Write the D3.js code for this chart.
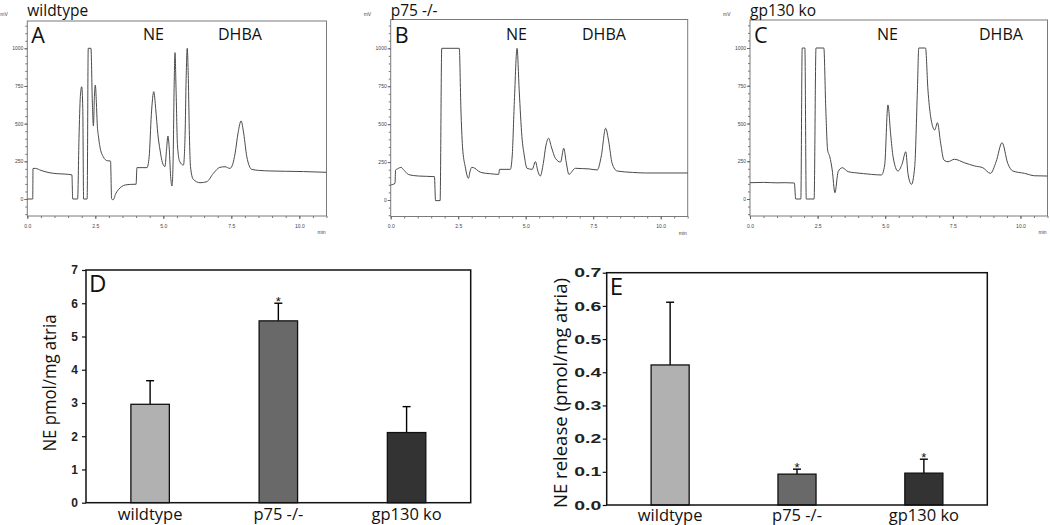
<!DOCTYPE html>
<html><head><meta charset="utf-8">
<script src="https://cdn.jsdelivr.net/npm/d3@7"></script>
<style>body{margin:0;background:#fff} svg{display:block}</style>
</head><body><svg id="c" width="1050" height="525"></svg>
<script>
// ---------- DATA ----------
const chromTitles = ["wildtype", "p75 -/-", "gp130 ko"];
const chromLetters = ["A", "B", "C"];
const peakLabels = ["NE", "DHBA"];
const chromYTicks = [0, 250, 500, 750, 1000];
const chromXTicks = [0, 2.5, 5, 7.5, 10];

// [time (min), signal (mV)]
const traceWildtype = [[0,0],[0.2,0],[0.21,203],[0.3,203],[0.5,190],[0.8,175],[1.1,168],[1.4,165],[1.64,160],[1.67,0],[1.85,0],[1.9,400],[1.95,680],[2.0,745],[2.04,600],[2.07,0],[2.2,0],[2.24,1000],[2.34,1000],[2.39,650],[2.43,485],[2.47,690],[2.5,756],[2.54,640],[2.57,502],[2.62,410],[2.67,347],[2.79,281],[2.94,254],[3.06,252],[3.1,0],[3.16,-5],[3.25,35],[3.35,62],[3.6,93],[3.8,97],[4.0,98],[4.03,208],[4.4,208],[4.48,280],[4.56,560],[4.65,712],[4.72,600],[4.8,430],[4.88,325],[4.97,240],[5.06,215],[5.12,330],[5.17,418],[5.22,330],[5.27,150],[5.32,86],[5.36,250],[5.4,760],[5.43,971],[5.47,720],[5.52,360],[5.6,250],[5.74,225],[5.8,420],[5.84,800],[5.88,1000],[5.92,800],[5.96,420],[6.0,214],[6.1,131],[6.35,108],[6.6,115],[6.84,170],[7.08,210],[7.27,214],[7.45,203],[7.55,230],[7.64,303],[7.75,440],[7.86,518],[7.96,430],[8.07,281],[8.25,197],[8.5,190],[8.92,186],[9.5,184],[10.15,182],[11.0,177]];

const traceP75 = [[0,99],[0.16,110],[0.18,198],[0.25,205],[0.38,215],[0.5,195],[0.65,169],[0.85,161],[1.03,158],[1.62,154],[1.66,-4],[1.83,-4],[1.89,1000],[2.54,1000],[2.6,600],[2.66,351],[2.76,220],[2.88,143],[2.94,190],[3.0,215],[3.12,209],[3.25,190],[3.38,180],[3.7,173],[4.0,169],[4.03,202],[4.43,202],[4.5,290],[4.58,650],[4.68,1000],[4.76,720],[4.86,417],[4.95,290],[5.05,209],[5.24,202],[5.36,253],[5.45,190],[5.54,158],[5.65,240],[5.75,360],[5.85,407],[5.95,350],[6.1,275],[6.29,250],[6.41,341],[6.5,250],[6.6,169],[6.84,209],[7.1,207],[7.34,205],[7.65,198],[7.8,290],[7.96,473],[8.08,380],[8.2,242],[8.39,191],[8.95,182],[9.44,178],[10.2,178],[11.0,178]];

const traceGp130 = [[0,108],[0.5,110],[1.0,107],[1.3,108],[1.64,106],[1.69,0],[1.88,0],[1.93,1000],[2.03,1000],[2.08,0],[2.37,0],[2.44,1000],[2.73,1000],[2.8,611],[2.87,325],[2.95,280],[3.04,192],[3.14,42],[3.26,181],[3.41,207],[3.63,181],[3.87,174],[4.2,168],[4.49,163],[4.86,159],[4.98,225],[5.1,623],[5.2,430],[5.29,280],[5.47,185],[5.62,230],[5.76,313],[5.84,170],[5.97,97],[6.09,214],[6.19,722],[6.24,1000],[6.49,1000],[6.58,722],[6.68,545],[6.83,457],[6.93,505],[7.05,369],[7.17,258],[7.32,247],[7.56,263],[7.93,240],[8.3,219],[8.61,207],[8.89,170],[9.1,247],[9.32,373],[9.53,236],[9.72,185],[10.15,170],[10.52,154],[11.0,152]];

const categories = ["wildtype", "p75 -/-", "gp130 ko"];
const neContent = [2.96, 5.47, 2.11];          // NE pmol/mg atria
const neContentErr = [0.71, 0.53, 0.78];
const neContentSig = [false, true, false];
const neContentTicks = [0, 1, 2, 3, 4, 5, 6, 7];
const neRelease = [0.422, 0.093, 0.096];       // NE release (pmol/mg atria)
const neReleaseErr = [0.189, 0.015, 0.042];
const neReleaseSig = [false, true, true];
const neReleaseTicks = [0, 0.1, 0.2, 0.3, 0.4, 0.5, 0.6, 0.7];
const barColors = ["#b1b1b1", "#696969", "#333333"];

// ---------- DRAW ----------
const svg = d3.select("#c");
const titleFont = "'Open Sans', 'Noto Sans', sans-serif";
const tickFont = "'Liberation Sans', Arial, sans-serif";

const chromLayout = [
  {left: 27.3, right: 326.5, top: 21, bottom: 216, y0: 199, y1000: 48.3, peaks: [143, 218]},
  {left: 390.7, right: 687.7, top: 19.5, bottom: 216.5, y0: 200, y1000: 48.3, peaks: [506, 582]},
  {left: 750, right: 1047.5, top: 20, bottom: 216, y0: 199, y1000: 48, peaks: [877, 979]}
];
const traces = [traceWildtype, traceP75, traceGp130];

chromLayout.forEach((L, i) => {
  const g = svg.append("g");
  const x = d3.scaleLinear().domain([0, 11]).range([L.left, L.right]);
  const y = d3.scaleLinear().domain([0, 1000]).range([L.y0, L.y1000]);

  g.append("rect").attr("x", L.left).attr("y", L.top)
    .attr("width", L.right - L.left).attr("height", L.bottom - L.top)
    .attr("fill", "none").attr("stroke", "#7a7a7a").attr("stroke-width", 1);

  const minorY = d3.range(-100, 1151, 50);
  const yAx = g.append("g").attr("transform", `translate(${L.left},0)`)
    .call(d3.axisLeft(y).tickValues(minorY).tickSize(2).tickFormat(""));
  yAx.select(".domain").remove();
  yAx.selectAll("line").attr("stroke", "#777");
  const yAx2 = g.append("g").attr("transform", `translate(${L.left},0)`)
    .call(d3.axisLeft(y).tickValues(chromYTicks).tickSize(3).tickPadding(1).tickFormat(d3.format("d")));
  yAx2.select(".domain").remove();
  yAx2.selectAll("line").attr("stroke", "#666");
  yAx2.selectAll("text").attr("font-size", 5).attr("font-family", tickFont).attr("fill", "#444");

  const xAx0 = g.append("g").attr("transform", `translate(0,${L.bottom})`)
    .call(d3.axisBottom(x).tickValues(d3.range(0, 11.01, 0.5)).tickSize(2).tickFormat(""));
  xAx0.select(".domain").remove();
  xAx0.selectAll("line").attr("stroke", "#777");
  const xAx = g.append("g").attr("transform", `translate(0,${L.bottom})`)
    .call(d3.axisBottom(x).tickValues(chromXTicks).tickSize(3).tickPadding(5).tickFormat(d3.format(".1f")));
  xAx.select(".domain").remove();
  xAx.selectAll("line").attr("stroke", "#666");
  xAx.selectAll("text").attr("font-size", 5).attr("font-family", tickFont).attr("fill", "#444");

  g.append("text").attr("x", L.right - 9).attr("y", L.bottom + 18).text("min")
    .attr("font-size", 5).attr("font-family", tickFont).attr("fill", "#444");
  g.append("text").attr("x", L.left - 27).attr("y", 16).text("mV")
    .attr("font-size", 5).attr("font-family", tickFont).attr("fill", "#444");

  const line = d3.line().x(d => x(d[0])).y(d => y(d[1])).curve(d3.curveMonotoneX);
  g.append("path").datum(traces[i]).attr("d", line)
    .attr("fill", "none").attr("stroke", "#4a4a4a").attr("stroke-width", 1);

  g.append("text").attr("x", L.left).attr("y", 16).text(chromTitles[i])
    .attr("font-size", 15.5).attr("font-family", titleFont).attr("fill", "#111");
  g.append("text").attr("x", L.left + 4).attr("y", 42.5).text(chromLetters[i])
    .attr("font-size", 21.5).attr("font-family", titleFont).attr("fill", "#111");
  peakLabels.forEach((p, k) => {
    g.append("text").attr("x", L.peaks[k]).attr("y", 40).text(p)
      .attr("font-size", 16).attr("font-family", titleFont).attr("fill", "#111");
  });
});

// ---------- BAR PANELS ----------
const barLayout = [
  {left: 86, right: 470.7, top: 270, bottom: 502.7, max: 7, vals: neContent, err: neContentErr, sig: neContentSig,
   ticks: neContentTicks, fmt: d3.format("d"), tickSize: 12, tickLen: null, letter: "D",
   title: "NE pmol/mg atria", titleX: 56, titleLen: 137, titleCY: 383, labelY: 520},
  {left: 606.7, right: 987.3, top: 272.7, bottom: 505, max: 0.7, vals: neRelease, err: neReleaseErr, sig: neReleaseSig,
   ticks: neReleaseTicks, fmt: d3.format(".1f"), tickSize: 13, tickLen: 27, letter: "E",
   title: "NE release (pmol/mg atria)", titleX: 567, titleLen: 230, titleCY: 393, labelY: 521}
];

barLayout.forEach(P => {
  const g = svg.append("g");
  const x = d3.scaleBand().domain(categories).range([P.left, P.right]).paddingInner(0.7).paddingOuter(0.35);
  const y = d3.scaleLinear().domain([0, P.max]).range([P.bottom, P.top]);

  categories.forEach((c, i) => {
    const cx = x(c) + x.bandwidth() / 2;
    const yt = y(P.vals[i] + P.err[i]);
    g.append("line").attr("x1", cx).attr("x2", cx).attr("y1", y(P.vals[i])).attr("y2", yt)
      .attr("stroke", "#000").attr("stroke-width", 1.4);
    g.append("line").attr("x1", cx - 4).attr("x2", cx + 4).attr("y1", yt).attr("y2", yt)
      .attr("stroke", "#000").attr("stroke-width", 1.4);
    if (P.sig[i]) {
      g.append("text").attr("x", cx).attr("y", yt + 3).attr("text-anchor", "middle").text("*")
        .attr("font-size", 13).attr("font-family", tickFont).attr("fill", "#111");
    }
  });

  g.selectAll("rect.bar").data(categories).enter().append("rect")
    .attr("x", d => x(d)).attr("width", x.bandwidth())
    .attr("y", (d, i) => y(P.vals[i])).attr("height", (d, i) => P.bottom - y(P.vals[i]))
    .attr("fill", (d, i) => barColors[i]).attr("stroke", "#111").attr("stroke-width", 1.3);

  g.append("rect").attr("x", P.left).attr("y", P.top)
    .attr("width", P.right - P.left).attr("height", P.bottom - P.top)
    .attr("fill", "none").attr("stroke", "#111").attr("stroke-width", 1.5);

  const yAx = g.append("g").attr("transform", `translate(${P.left},0)`)
    .call(d3.axisLeft(y).tickValues(P.ticks).tickSize(4).tickPadding(P.tickLen ? 1.5 : 4).tickFormat(P.fmt));
  yAx.select(".domain").remove();
  yAx.selectAll("line").attr("stroke", "#111").attr("stroke-width", 1.2);
  const tt = yAx.selectAll("text").attr("font-size", P.tickSize).attr("font-family", tickFont)
    .attr("font-weight", "bold").attr("fill", "#222");
  if (P.tickLen) tt.attr("textLength", P.tickLen).attr("lengthAdjust", "spacingAndGlyphs");

  categories.forEach(c => {
    g.append("text").attr("x", x(c) + x.bandwidth() / 2).attr("y", P.labelY).attr("text-anchor", "middle")
      .text(c).attr("font-size", 16.5).attr("font-family", titleFont).attr("fill", "#111");
  });

  g.append("text").attr("transform", `translate(${P.titleX},${P.titleCY}) rotate(-90)`)
    .attr("text-anchor", "middle").text(P.title)
    .attr("textLength", P.titleLen).attr("lengthAdjust", "spacingAndGlyphs")
    .attr("font-size", 17.5).attr("font-family", titleFont).attr("fill", "#111");

  g.append("text").attr("x", P.left + 3).attr("y", P.top + 22).text(P.letter)
    .attr("font-size", 24).attr("font-family", titleFont).attr("fill", "#111");
});
</script></body></html>
